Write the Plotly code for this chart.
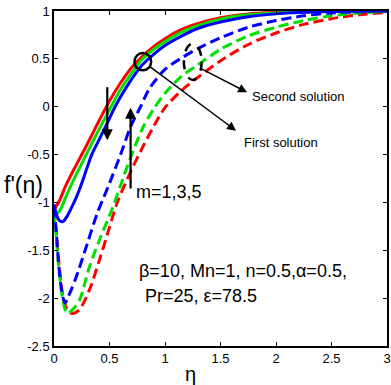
import plotly.graph_objects as go

# --- data ----------------------------------------------------------------
# first solution (solid), m = 1, 3, 5
eta_s_red = [0, 0.05, 0.1, 0.15, 0.2, 0.25, 0.3, 0.4, 0.5, 0.6, 0.7, 0.8, 0.9, 1.0,
             1.135, 1.3, 1.5, 1.75, 2.0, 2.5, 3.0]
fp_s_red = [-1.08, -0.98, -0.84, -0.72, -0.61, -0.5, -0.39, -0.16, 0.06, 0.25, 0.41,
            0.53, 0.63, 0.71, 0.8, 0.87, 0.93, 0.97, 0.985, 0.998, 1.0]

eta_s_green = [0, 0.03, 0.06, 0.1, 0.15, 0.2, 0.29, 0.4, 0.5, 0.6, 0.7, 0.79, 0.9, 1.0,
               1.135, 1.3, 1.52, 1.75, 2.0, 2.5, 3.0]
fp_s_green = [-1.08, -1.11, -1.07, -0.96, -0.83, -0.71, -0.5, -0.25, -0.03, 0.18, 0.35,
              0.49, 0.6, 0.68, 0.77, 0.85, 0.92, 0.96, 0.98, 0.997, 1.0]

eta_s_blue = [0, 0.02, 0.05, 0.08, 0.12, 0.16, 0.2, 0.25, 0.3, 0.34, 0.4, 0.48, 0.55,
              0.65, 0.79, 0.9, 1.0, 1.135, 1.3, 1.52, 1.75, 2.0, 2.2, 2.5, 3.0]
fp_s_blue = [-1.02, -1.12, -1.19, -1.2, -1.14, -1.05, -0.95, -0.8, -0.63, -0.5, -0.36,
             -0.17, 0.0, 0.2, 0.43, 0.55, 0.64, 0.73, 0.82, 0.89, 0.94, 0.97, 0.985,
             0.995, 1.0]

# second solution (dashed), m = 1, 3, 5
eta_d_red = [0, 0.02, 0.05, 0.08, 0.11, 0.14, 0.17, 0.23, 0.32, 0.41, 0.5, 0.57, 0.69,
             0.8, 0.9, 1.0, 1.15, 1.3, 1.5, 1.75, 2.0, 2.25, 2.5, 2.75, 3.0]
fp_d_red = [-1.08, -1.3, -1.7, -1.98, -2.1, -2.15, -2.16, -2.12, -1.91, -1.6, -1.26,
            -1.0, -0.68, -0.42, -0.2, -0.01, 0.17, 0.31, 0.48, 0.65, 0.77, 0.86, 0.92,
            0.96, 0.985]

eta_d_green = [0, 0.02, 0.04, 0.07, 0.1, 0.12, 0.16, 0.23, 0.32, 0.41, 0.53, 0.6, 0.69,
               0.8, 0.9, 1.0, 1.15, 1.3, 1.5, 1.75, 2.0, 2.25, 2.5, 2.75, 3.0]
fp_d_green = [-1.1, -1.35, -1.65, -1.95, -2.12, -2.16, -2.13, -2.02, -1.67, -1.39, -1.05,
              -0.82, -0.53, -0.22, -0.02, 0.14, 0.32, 0.44, 0.6, 0.74, 0.83, 0.9, 0.95,
              0.98, 0.995]

eta_d_blue = [0, 0.02, 0.04, 0.06, 0.08, 0.1, 0.13, 0.16, 0.2, 0.3, 0.39, 0.44, 0.5,
              0.6, 0.69, 0.78, 0.86, 1.0, 1.15, 1.3, 1.5, 1.75, 2.0, 2.25, 2.5, 2.75, 3.0]
fp_d_blue = [-1.05, -1.3, -1.62, -1.85, -1.99, -2.05, -1.98, -1.9, -1.78, -1.43, -1.11,
             -0.97, -0.8, -0.5, -0.21, 0.0, 0.19, 0.39, 0.51, 0.61, 0.72, 0.83, 0.9,
             0.95, 0.98, 0.99, 1.0]

x_ticks = [0, 0.5, 1, 1.5, 2, 2.5, 3]
x_tick_text = ["0", "0.5", "1", "1.5", "2", "2.5", "3"]
y_ticks = [-2.5, -2, -1.5, -1, -0.5, 0, 0.5, 1]
y_tick_text = ["-2.5", "-2", "-1.5", "-1", "-0.5", "0", "0.5", "1"]

RED, GREEN, BLUE = "#ff0000", "#00e000", "#0000ff"
FONT = "Liberation Sans Narrow, Arial Narrow, Liberation Sans, Arial"

fig = go.Figure()

# dashed (second solution) first, solid on top
for x, y, c in ((eta_d_red, fp_d_red, RED), (eta_d_green, fp_d_green, GREEN),
                (eta_d_blue, fp_d_blue, BLUE)):
    fig.add_trace(go.Scatter(x=x, y=y, mode="lines", showlegend=False,
                             line=dict(color=c, width=3, dash="10px,5px", shape="spline",
                                       smoothing=0.8)))
for x, y, c in ((eta_s_red, fp_s_red, RED), (eta_s_green, fp_s_green, GREEN),
                (eta_s_blue, fp_s_blue, BLUE)):
    fig.add_trace(go.Scatter(x=x, y=y, mode="lines", showlegend=False,
                             line=dict(color=c, width=3, shape="spline", smoothing=0.8)))

# circles marking the two solution branches
fig.add_shape(type="circle", xref="x", yref="y", x0=0.725, x1=0.875, y0=0.38, y1=0.56,
              line=dict(color="black", width=2.5))
fig.add_shape(type="circle", xref="x", yref="y", x0=1.17, x1=1.33, y0=0.28, y1=0.66,
              line=dict(color="black", width=2.5, dash="dash"))

arrow = dict(showarrow=True, arrowhead=2, arrowsize=1.2, arrowwidth=1.5,
             arrowcolor="black", axref="x", ayref="y", xref="x", yref="y", text="")
# pointer lines to the labels
fig.add_annotation(x=1.64, y=-0.25, ax=0.85, ay=0.43, **arrow)
fig.add_annotation(x=1.74, y=0.15, ax=1.32, ay=0.4, **arrow)
# m arrows
m_arrow = dict(showarrow=True, arrowhead=2, arrowsize=1, arrowwidth=2.2,
               arrowcolor="black", axref="x", ayref="y", xref="x", yref="y", text="")
fig.add_annotation(x=0.48, y=-0.35, ax=0.48, ay=0.22, **m_arrow)
fig.add_annotation(x=0.69, y=-0.01, ax=0.69, ay=-0.87, **m_arrow)


def label(text, x, y, size, xanchor="left"):
    fig.add_annotation(text=text, x=x, y=y, xref="paper", yref="paper", showarrow=False,
                       xanchor=xanchor, yanchor="middle",
                       font=dict(family=FONT, color="black", size=size))


label("Second solution", 0.59, 0.746, 13)
label("First solution", 0.565, 0.606, 13)
label("m=1,3,5", 0.24, 0.46, 18)
label("β=10, Mn=1, n=0.5,α=0.5,", 0.25, 0.225, 18)
label("Pr=25, ε=78.5", 0.266, 0.148, 18)
label("f'(η)", -0.155, 0.48, 23)
label("η", 0.41, -0.085, 20, xanchor="center")

fig.update_layout(
    width=391, height=385,
    paper_bgcolor="white", plot_bgcolor="white",
    margin=dict(l=54, r=4, t=11, b=39),
    font=dict(family=FONT, color="black", size=12),
)
axis_style = dict(showgrid=False, zeroline=False, showline=True, linecolor="black",
                  linewidth=1.5, mirror="ticks", ticks="inside", ticklen=4,
                  tickcolor="black", automargin=False,
                  tickfont=dict(family=FONT, size=13, color="black"))
fig.update_xaxes(range=[0, 3], tickvals=x_ticks, ticktext=x_tick_text, **axis_style)
fig.update_yaxes(range=[-2.5, 1], tickvals=y_ticks, ticktext=y_tick_text, **axis_style)

# page body has a default 8px margin; drop it so the figure sits at the window corner
fig.write_html("out.html", config={"displayModeBar": False},
               post_script="document.body.style.margin='0';")
